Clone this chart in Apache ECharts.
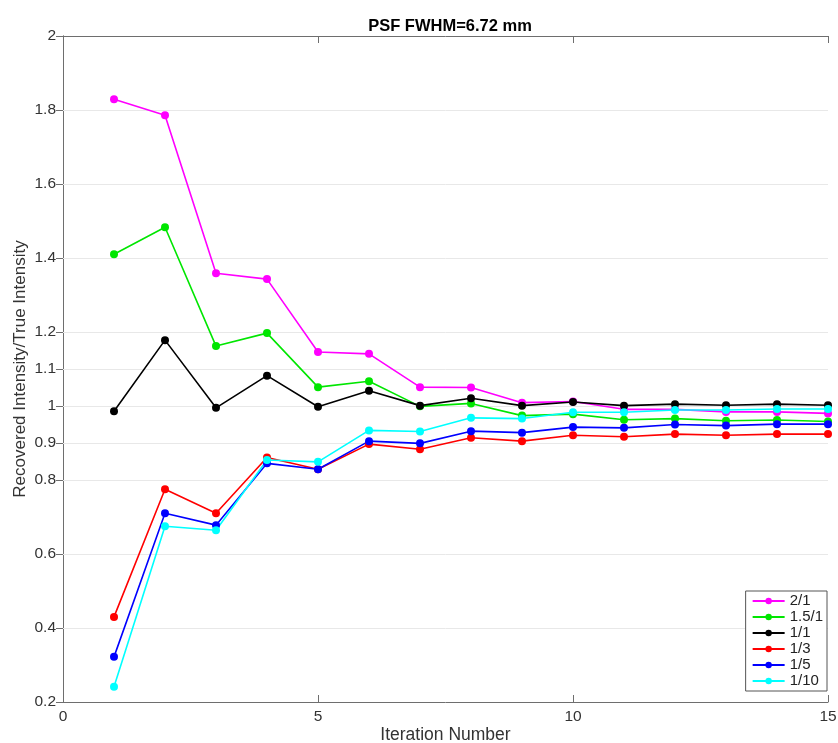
<!DOCTYPE html>
<html>
<head>
<meta charset="utf-8">
<script src="https://cdn.jsdelivr.net/npm/echarts@6/dist/echarts.min.js"></script>
<style>
  html, body { margin: 0; padding: 0; background: #fff; }
  #chart { width: 838px; height: 743px; }
</style>
</head>
<body>
<div id="chart"></div>
<script>
// iteration number on x
const iterations = [1, 2, 3, 4, 5, 6, 7, 8, 9, 10, 11, 12, 13, 14, 15];

// recovered / true intensity
const ratio2to1   = [1.829, 1.786, 1.359, 1.343, 1.146, 1.141, 1.051, 1.050, 1.009, 1.012, 0.991, 0.991, 0.984, 0.984, 0.980];
const ratio15to1  = [1.410, 1.483, 1.162, 1.197, 1.051, 1.067, 0.999, 1.007, 0.974, 0.978, 0.963, 0.966, 0.960, 0.962, 0.958];
const ratio1to1   = [0.986, 1.178, 0.995, 1.082, 0.998, 1.041, 1.001, 1.021, 1.001, 1.011, 1.001, 1.005, 1.002, 1.005, 1.002];
const ratio1to3   = [0.430, 0.775, 0.710, 0.861, 0.829, 0.897, 0.883, 0.914, 0.905, 0.921, 0.917, 0.924, 0.921, 0.924, 0.924];
const ratio1to5   = [0.322, 0.710, 0.678, 0.845, 0.829, 0.905, 0.899, 0.932, 0.928, 0.943, 0.941, 0.950, 0.947, 0.951, 0.951];
const ratio1to10  = [0.241, 0.675, 0.664, 0.854, 0.849, 0.934, 0.931, 0.968, 0.966, 0.983, 0.983, 0.989, 0.989, 0.992, 0.992];

const seriesNames = ['2/1', '1.5/1', '1/1', '1/3', '1/5', '1/10'];
const seriesColors = ['#ff00ff', '#00e600', '#000000', '#ff0000', '#0000ff', '#00ffff'];
const seriesValues = [ratio2to1, ratio15to1, ratio1to1, ratio1to3, ratio1to5, ratio1to10];

// y ticks are uneven (extra ones round 1)
const yTicks = [0.2, 0.4, 0.6, 0.8, 0.9, 1, 1.1, 1.2, 1.4, 1.6, 1.8, 2];

const FONT = 'Liberation Sans';
const AXIS_GRAY = '#6e6e6e';

const chart = echarts.init(document.getElementById('chart'));

const lineSeries = seriesNames.map((name, i) => ({
  name: name,
  type: 'line',
  data: iterations.map((it, k) => [it, seriesValues[i][k]]),
  symbol: 'circle',
  symbolSize: 8,
  color: seriesColors[i],
  lineStyle: { width: 1.6, color: seriesColors[i] },
  itemStyle: { color: seriesColors[i], borderWidth: 0 },
  z: 3
}));

// grid lines at the uneven y ticks, kept under the data lines
const gridSeries = {
  name: 'grid',
  type: 'line',
  data: [],
  silent: true,
  z: 1,
  markLine: {
    silent: true,
    z: 1,
    symbol: ['none', 'none'],
    label: { show: false },
    lineStyle: { color: '#e8e8e8', width: 1, type: 'solid' },
    data: yTicks.filter(v => v > 0.2 && v < 2).map(v => ({ yAxis: v }))
  }
};

chart.setOption({
  backgroundColor: '#fff',
  animation: false,
  title: {
    text: 'PSF FWHM=6.72 mm',
    left: 445,
    top: 13,
    textAlign: 'center',
    textStyle: { fontFamily: FONT, fontSize: 16.5, fontWeight: 'bold', color: '#000' }
  },
  grid: { left: 63, right: 10, top: 36, bottom: 41, containLabel: false, outerBoundsMode: 'none' },
  legend: {
    data: seriesNames,
    orient: 'vertical',
    right: 11,
    top: 591,
    z: 10,
    itemWidth: 32,
    itemHeight: 8,
    itemGap: 0,
    padding: [2, 4, 2, 6],
    borderColor: '#555',
    borderWidth: 1,
    backgroundColor: '#fff',
    textStyle: { fontFamily: FONT, fontSize: 15, color: '#222', lineHeight: 16 }
  },
  xAxis: [{
    type: 'value',
    min: 0, max: 15, interval: 5,
    name: 'Iteration Number',
    nameLocation: 'middle',
    nameGap: 24,
    nameMoveOverlap: false,
    nameTextStyle: { fontFamily: FONT, fontSize: 17.5, color: '#333' },
    axisLine: { show: true, lineStyle: { color: AXIS_GRAY, width: 1 } },
    axisTick: { show: true, inside: true, length: 7, lineStyle: { color: AXIS_GRAY } },
    axisLabel: { fontFamily: FONT, fontSize: 15.5, color: '#333', margin: 7 },
    splitLine: { show: false }
  }, {
    type: 'value',
    position: 'top',
    min: 0, max: 15, interval: 5,
    axisLine: { show: true, lineStyle: { color: AXIS_GRAY, width: 1 } },
    axisTick: { show: true, inside: true, length: 7, lineStyle: { color: AXIS_GRAY } },
    axisLabel: { show: false },
    splitLine: { show: false }
  }],
  yAxis: [{
    type: 'value',
    min: 0.2, max: 2,
    name: 'Recovered Intensity/True Intensity',
    nameLocation: 'middle',
    nameGap: 34,
    nameMoveOverlap: false,
    nameTextStyle: { fontFamily: FONT, fontSize: 17, color: '#333' },
    axisLine: { show: true, lineStyle: { color: AXIS_GRAY, width: 1 } },
    axisTick: { show: false },
    axisLabel: {
      fontFamily: FONT, fontSize: 15.5, color: '#333', margin: 7,
      customValues: yTicks
    },
    splitLine: { show: false }
  }, {
    type: 'value',
    position: 'right',
    min: 0.2, max: 2,
    axisLine: { show: true, lineStyle: { color: AXIS_GRAY, width: 1 } },
    axisTick: { show: true, inside: true, length: 7, lineStyle: { color: AXIS_GRAY }, customValues: yTicks },
    axisLabel: { show: false },
    splitLine: { show: false }
  }],
  series: [gridSeries].concat(lineSeries)
});
</script>
</body>
</html>
